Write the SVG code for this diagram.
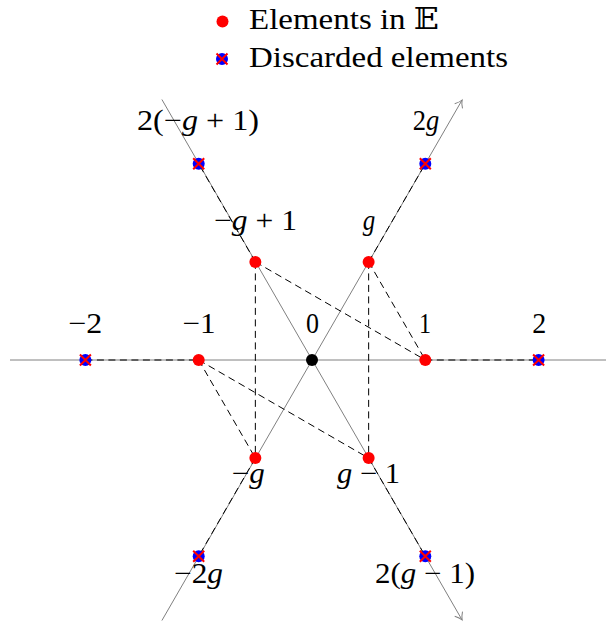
<svg xmlns="http://www.w3.org/2000/svg" xmlns:xlink="http://www.w3.org/1999/xlink" width="606" height="626" viewBox="0 0 606 626">
<style>
  .axis { stroke: #808080; stroke-width: 1; fill: none; }
  .dash { stroke: #000; stroke-width: 1; stroke-dasharray: 7 4.5; fill: none; }
  .lbl { font-family: "Liberation Serif", "DejaVu Serif", serif; font-size: 29px; fill: #000; }
  .it { font-style: italic; }
  .elem { fill: #ff0000; }
  .zero { fill: #000; }
</style>
<defs>
  <marker id="arr" viewBox="-10 -6 12 12" markerWidth="12" markerHeight="12" refX="0" refY="0" orient="auto" markerUnits="userSpaceOnUse">
    <path d="M -7 -4.5 Q -3 -1 0 0 Q -3 1 -7 4.5" fill="none" stroke="#808080" stroke-width="1"/>
  </marker>
  <g id="disc">
    <circle r="6" fill="#0000ff"/>
    <path d="M -5.5 -5.5 L 5.5 5.5 M -5.5 5.5 L 5.5 -5.5" stroke="#ff0000" stroke-width="2"/>
  </g>
</defs>
<rect width="606" height="626" fill="#fff"/>

<g id="legend">
  <circle cx="222.5" cy="21.5" r="6" class="elem"/>
  <text class="lbl" x="249" y="29" textLength="190" lengthAdjust="spacingAndGlyphs">Elements in <tspan font-family="DejaVu Serif, DejaVu Sans, serif">𝔼</tspan></text>
  <use xlink:href="#disc" href="#disc" x="222" y="59"/>
  <text class="lbl" x="249" y="66.5" textLength="259" lengthAdjust="spacingAndGlyphs">Discarded elements</text>
</g>

<g id="connectors">
  <line class="axis" x1="10" y1="360" x2="606" y2="360"/>
  <line class="axis" x1="161.9" y1="620.5" x2="462.1" y2="100" marker-end="url(#arr)"/>
  <line class="axis" x1="161.9" y1="99.5" x2="462.1" y2="620" marker-end="url(#arr)"/>
  <line class="dash" x1="85.4" y1="360" x2="198.7" y2="360"/>
  <line class="dash" x1="425.3" y1="360" x2="538.6" y2="360"/>
  <line class="dash" x1="368.65" y1="261.9" x2="425.3" y2="163.8"/>
  <line class="dash" x1="255.35" y1="458.1" x2="198.7" y2="556.2"/>
  <line class="dash" x1="255.35" y1="261.9" x2="198.7" y2="163.8"/>
  <line class="dash" x1="368.65" y1="458.1" x2="425.3" y2="556.2"/>
  <line class="dash" x1="255.35" y1="261.9" x2="425.3" y2="360"/>
  <line class="dash" x1="368.65" y1="261.9" x2="425.3" y2="360"/>
  <line class="dash" x1="198.7" y1="360" x2="255.35" y2="458.1"/>
  <line class="dash" x1="198.7" y1="360" x2="368.65" y2="458.1"/>
  <line class="dash" x1="255.35" y1="261.9" x2="255.35" y2="458.1"/>
  <line class="dash" x1="368.65" y1="261.9" x2="368.65" y2="458.1"/>
</g>

<g id="n0">
  <circle cx="312" cy="360" r="6" class="zero"/>
  <text class="lbl" x="306" y="333" textLength="13" lengthAdjust="spacingAndGlyphs">0</text>
</g>
<g id="n1">
  <circle cx="425.3" cy="360" r="6" class="elem"/>
  <text class="lbl" x="419" y="333" textLength="12" lengthAdjust="spacingAndGlyphs">1</text>
</g>
<g id="nm1">
  <circle cx="198.7" cy="360" r="6" class="elem"/>
  <text class="lbl" x="182.5" y="333" textLength="33" lengthAdjust="spacingAndGlyphs">−1</text>
</g>
<g id="n2">
  <use xlink:href="#disc" href="#disc" x="538.6" y="360"/>
  <text class="lbl" x="532.3" y="333" textLength="14" lengthAdjust="spacingAndGlyphs">2</text>
</g>
<g id="nm2">
  <use xlink:href="#disc" href="#disc" x="85.4" y="360"/>
  <text class="lbl" x="68.3" y="333" textLength="34" lengthAdjust="spacingAndGlyphs">−2</text>
</g>
<g id="ng">
  <circle cx="368.65" cy="261.9" r="6" class="elem"/>
  <text class="lbl it" x="362.7" y="230" textLength="12.5" lengthAdjust="spacingAndGlyphs">g</text>
</g>
<g id="nmgp1">
  <circle cx="255.35" cy="261.9" r="6" class="elem"/>
  <text class="lbl" x="214" y="230" textLength="83" lengthAdjust="spacingAndGlyphs">−<tspan class="it">g</tspan> + 1</text>
</g>
<g id="nmg">
  <circle cx="255.35" cy="458.1" r="6" class="elem"/>
  <text class="lbl" x="231.7" y="482.5" textLength="33" lengthAdjust="spacingAndGlyphs">−<tspan class="it">g</tspan></text>
</g>
<g id="ngm1">
  <circle cx="368.65" cy="458.1" r="6" class="elem"/>
  <text class="lbl" x="337" y="482.5" textLength="63" lengthAdjust="spacingAndGlyphs"><tspan class="it">g</tspan> − 1</text>
</g>
<g id="n2g">
  <use xlink:href="#disc" href="#disc" x="425.3" y="163.8"/>
  <text class="lbl" x="412.7" y="130" textLength="26.5" lengthAdjust="spacingAndGlyphs">2<tspan class="it">g</tspan></text>
</g>
<g id="n2mgp1">
  <use xlink:href="#disc" href="#disc" x="198.7" y="163.8"/>
  <text class="lbl" x="137" y="130" textLength="122" lengthAdjust="spacingAndGlyphs">2(−<tspan class="it">g</tspan> + 1)</text>
</g>
<g id="nm2g">
  <use xlink:href="#disc" href="#disc" x="198.7" y="556.2"/>
  <text class="lbl" x="174" y="582.5" textLength="49" lengthAdjust="spacingAndGlyphs">−2<tspan class="it">g</tspan></text>
</g>
<g id="n2gm1">
  <use xlink:href="#disc" href="#disc" x="425.3" y="556.2"/>
  <text class="lbl" x="375" y="582.5" textLength="100" lengthAdjust="spacingAndGlyphs">2(<tspan class="it">g</tspan> − 1)</text>
</g>
</svg>
